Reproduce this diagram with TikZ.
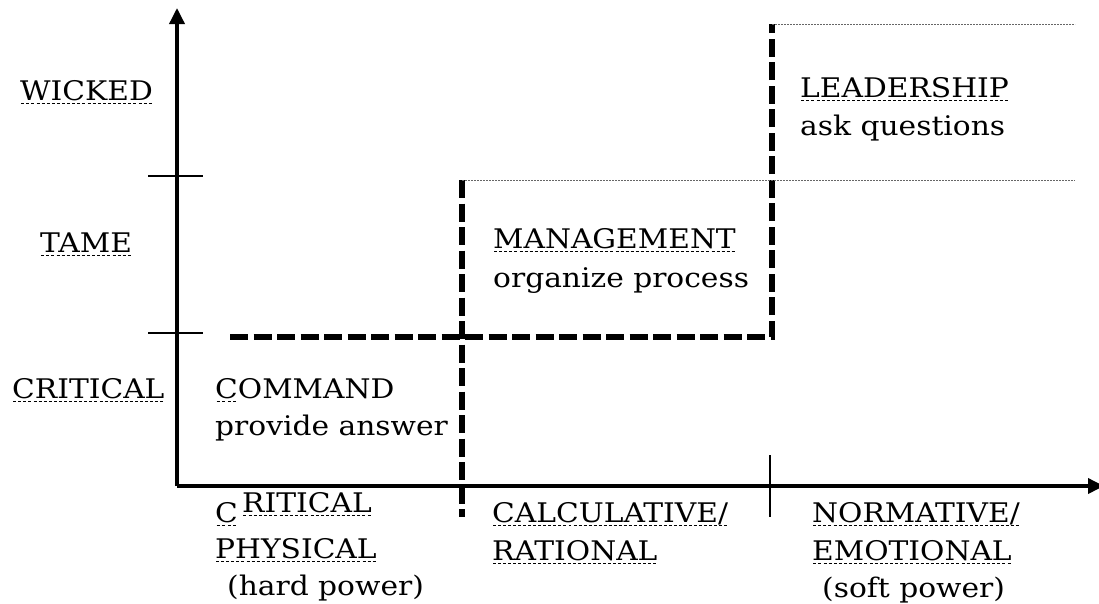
\documentclass[tikz,border=0pt]{standalone}
\usepackage{fontspec}
\usepackage{xcolor}
\setmainfont{DejaVu Serif}[FakeStretch=1.1]
\usetikzlibrary{arrows.meta,positioning}

% dotted spell-check underline
\newcommand{\spellmark}[1]{\setbox0=\hbox{#1}\rlap{\raisebox{-4.2pt}{\hbox to \wd0{\xleaders\hbox to 5pt{\hss\rule{3pt}{1.3pt}\hss}\hfill}}}\box0}

\tikzset{
  axis/.style={line width=3.5pt},
  tickmark/.style={line width=2.5pt},
  stepline/.style={line width=5.5pt, dash pattern=on 18pt off 5.5pt},
  guide/.style={black!60, line width=0.9pt, dash pattern=on 2pt off 1pt},
  lbl/.style={anchor=base west, inner sep=0pt, font=\fontsize{27}{37}\selectfont}
}

\begin{document}
\begin{tikzpicture}[x=1pt,y=-1pt]
    \useasboundingbox (0,0) rectangle (1099,603);

    % Axes
    \coordinate (origin) at (177,486);
    \coordinate (ytip) at (177,8);
    \coordinate (xtip) at (1104,486);
    \draw[axis, -{Triangle[length=16pt,width=15pt]}] (origin) -- (ytip);
    \draw[axis, -{Triangle[length=16pt,width=15pt]}] (origin) -- (xtip);

    % Tick marks
    \coordinate (tw1) at (148,176);
    \coordinate (tw2) at (203,176);
    \coordinate (tt1) at (148,333);
    \coordinate (tt2) at (203,333);
    \coordinate (tx1) at (770,455);
    \coordinate (tx2) at (770,517);
    \draw[tickmark] (tw1) -- (tw2);
    \draw[tickmark] (tt1) -- (tt2);
    \draw[tickmark] (tx1) -- (tx2);

    % Step line
    \coordinate (s0) at (230,337);
    \coordinate (s1) at (772,337);
    \coordinate (s2) at (772,24);
    \coordinate (m0) at (462,180);
    \coordinate (m1) at (462,517);
    \draw[stepline] (s0) -- (s1) -- (s2);
    \draw[stepline] (m0) -- (m1);

    % Guide lines
    \coordinate (g0) at (1075,180);
    \coordinate (g1) at (1075,24);
    \draw[guide] (m0) -- (g0);
    \draw[guide] (s2) -- (g1);

    % Problem types
    \node[lbl] (wicked) at (20,100) {\spellmark{WICKED}};
    \node[lbl] (tame) at (40,252) {\spellmark{TAME}};
    \node[lbl] (critical) at (12,398) {\spellmark{CRITICAL}};

    % Authority types
    \node[lbl] (command) at (215,398) {\spellmark{C}OMMAND};
    \node[lbl] (commandtxt) at (215,435) {provide answer};
    \node[lbl] (manage) at (493,248) {\spellmark{MANAGEMENT}};
    \node[lbl] (managetxt) at (493,287) {organize process};
    \node[lbl] (lead) at (800,97) {\spellmark{LEADERSHIP}};
    \node[lbl] (leadtxt) at (800,135) {ask questions};

    % Power types
    \node[lbl] (crc) at (215,522) {\spellmark{C}};
    \node[lbl] (crrest) at (242,512) {\spellmark{RITICAL}};
    \node[lbl] (phys) at (215,558) {\spellmark{PHYSICAL}};
    \node[lbl] (hard) at (227,595) {(hard power)};
    \node[lbl] (calc) at (492,522) {\spellmark{CALCULATIVE/}};
    \node[lbl] (rat) at (492,560) {\spellmark{RATIONAL}};
    \node[lbl] (norm) at (812,522) {\spellmark{NORMATIVE/}};
    \node[lbl] (emo) at (812,560) {\spellmark{EMOTIONAL}};
    \node[lbl] (soft) at (822,597) {(soft power)};
\end{tikzpicture}
\end{document}
